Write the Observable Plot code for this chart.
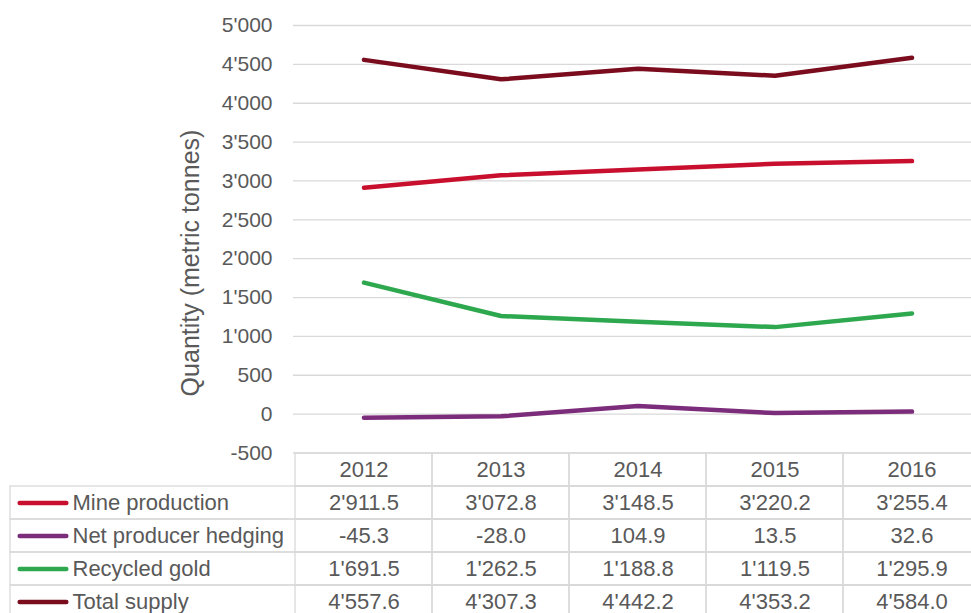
<!DOCTYPE html>
<html><head><meta charset="utf-8">
<script src="https://cdn.jsdelivr.net/npm/d3@7"></script>
<script src="https://cdn.jsdelivr.net/npm/@observablehq/plot@0.6"></script>
<style>
body{margin:0;background:#fff;}
#wrap{position:relative;width:971px;height:613px;overflow:hidden;background:#fff;}
#wrap svg{position:absolute;left:0;}
</style></head><body><div id="wrap"></div>
<script>
const years = ["2012", "2013", "2014", "2015", "2016"];
const seriesNames = ["Mine production", "Net producer hedging", "Recycled gold", "Total supply"];
const mineProduction = [2911.5, 3072.8, 3148.5, 3220.2, 3255.4];
const netProducerHedging = [-45.3, -28.0, 104.9, 13.5, 32.6];
const recycledGold = [1691.5, 1262.5, 1188.8, 1119.5, 1295.9];
const totalSupply = [4557.6, 4307.3, 4442.2, 4353.2, 4584.0];
const seriesColors = ["#c8102e", "#7b2c7a", "#2ea84e", "#7a0c1e"];
const yTicks = [-500, 0, 500, 1000, 1500, 2000, 2500, 3000, 3500, 4000, 4500, 5000];
const yLabel = "Quantity (metric tonnes)";

const locale = d3.formatLocale({decimal: ".", thousands: "'", grouping: [3], currency: ["", ""], minus: "-"});
const fmtInt = locale.format(",");
const fmtVal = locale.format(",.1f");

const seriesValues = [mineProduction, netProducerHedging, recycledGold, totalSupply];
const rows = seriesNames.flatMap((s, i) => years.map((yr, j) => ({series: s, year: yr, value: seriesValues[i][j]})));

const FONT = "'Liberation Sans', Arial, sans-serif";
const TEXT = "#595959";
const GRID = "#d9d9d9";
const baseStyle = {background: "transparent", maxWidth: "none", overflow: "visible", fontFamily: FONT, color: TEXT};

const chart = Plot.plot({
  width: 982, height: 613,
  marginLeft: 293, marginRight: 0, marginTop: 25, marginBottom: 160.5,
  style: baseStyle,
  x: {type: "band", domain: years, padding: 0, axis: null},
  y: {domain: [-500, 5000], axis: null},
  color: {domain: seriesNames, range: seriesColors},
  marks: [
    Plot.gridY(yTicks, {stroke: GRID, strokeOpacity: 1, strokeWidth: 1.3}),
    Plot.axisY(yTicks, {tickFormat: fmtInt, tickSize: 0, tickPadding: 21, fontSize: 21, label: null}),
    Plot.text([yLabel], {text: d => d, frameAnchor: "left", textAnchor: "middle", rotate: -90, dx: -102.5, dy: 23.75, fontSize: 25, fill: TEXT}),
    Plot.line(rows, {x: "year", y: "value", z: "series", stroke: "series", strokeWidth: 4.5, strokeLinecap: "round", strokeLinejoin: "round"})
  ]
});
chart.style.top = "0px";

const tableRowKeys = ["", ...seriesNames];
const headerCells = years.map(yr => ({series: "", year: yr}));
const swatch = {draw(context) { context.moveTo(-23.3, 0); context.lineTo(23.3, 0); }};

const table = Plot.plot({
  width: 982, height: 165,
  marginLeft: 10, marginRight: 0, marginTop: 0, marginBottom: 0,
  style: baseStyle,
  x: {type: "band", domain: years, range: [293, 982], padding: 0, axis: null},
  y: {type: "band", domain: tableRowKeys, range: [0, 165], padding: 0, axis: null},
  color: {domain: seriesNames, range: seriesColors},
  marks: [
    Plot.cell(seriesNames, {y: d => d, fill: "none", stroke: GRID, strokeWidth: 1.3}),
    Plot.cell([...headerCells, ...rows], {x: "year", y: "series", fill: "none", stroke: GRID, strokeWidth: 1.3}),
    Plot.text(headerCells, {x: "year", y: "series", text: "year", fontSize: 22, fill: TEXT}),
    Plot.text(rows, {x: "year", y: "series", text: d => fmtVal(d.value), fontSize: 22, fill: TEXT}),
    Plot.dot(seriesNames, {y: d => d, frameAnchor: "left", dx: 32.5, symbol: swatch, r: 5, fill: "none", stroke: d => d, strokeWidth: 4.5, strokeLinecap: "round"}),
    Plot.text(seriesNames, {y: d => d, text: d => d, frameAnchor: "left", dx: 62, textAnchor: "start", fontSize: 22, fill: TEXT})
  ]
});
table.style.top = "453px";

const wrap = document.getElementById("wrap");
wrap.appendChild(chart);
wrap.appendChild(table);
</script>
</body></html>
